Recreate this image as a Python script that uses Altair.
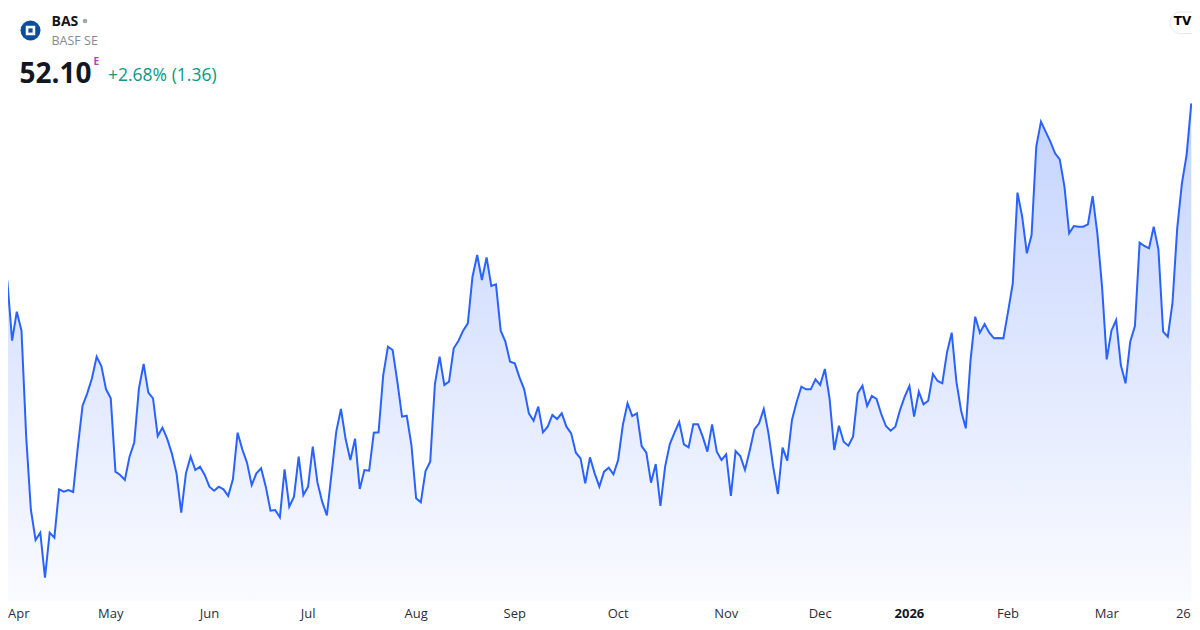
import altair as alt
import pandas as pd

# ---------------- data ----------------
symbol = "BAS"
company = "BASF SE"
last_price = "52.10"
price_flag = "E"
change_text = "+2.68% (1.36)"

# daily closes, 27 Mar 2025 .. 26 Mar 2026 (trading-day order)
prices = [
    47.35, 46.75, 44.98, 45.85, 45.28, 42.10, 39.90, 39.00, 39.22, 37.87,
    39.22, 39.07, 40.52, 40.45, 40.50, 40.44, 41.80, 43.03, 43.40, 43.85,
    44.50, 44.22, 43.52, 43.25, 41.05, 40.95, 40.80, 41.50, 41.92, 43.55,
    44.28, 43.42, 43.25, 42.12, 42.37, 42.04, 41.60, 41.00, 39.82, 41.00,
    41.50, 41.10, 41.20, 40.95, 40.60, 40.48, 40.60, 40.52, 40.32, 40.82,
    42.22, 41.72, 41.32, 40.65, 41.00, 41.15, 40.60, 39.88, 39.90, 39.68,
    41.12, 40.00, 40.30, 41.50,
    40.35, 40.60, 41.80, 40.72, 40.15, 39.74, 41.00, 42.25, 42.93, 42.02,
    41.40, 42.04, 40.53, 41.10, 41.08, 42.22, 42.23, 43.95, 44.80, 44.70,
    43.75, 42.70, 42.73, 41.85, 40.25, 40.13, 41.07, 41.35, 43.68, 44.50,
    43.65, 43.75, 44.75, 44.97, 45.28, 45.50, 46.90, 47.55, 46.80, 47.48,
    46.62, 46.67, 45.28, 44.95, 44.35, 44.30, 43.88, 43.52, 42.80, 42.58,
    43.00, 42.23, 42.40, 42.75, 42.63, 42.80, 42.40, 42.20, 41.62, 41.45,
    40.70, 41.48, 41.00, 40.60,
    41.05, 41.17, 40.97, 41.40, 42.45, 43.10, 42.72, 42.80, 41.82, 41.62,
    40.72, 41.28, 40.02, 41.20, 41.88, 42.22, 42.54, 41.87, 41.78, 42.47,
    42.47, 42.10, 41.65, 42.47, 41.65, 41.40, 41.57, 40.32, 41.67, 41.52,
    41.10, 41.68, 42.32, 42.50, 42.93, 42.20, 41.20, 40.38, 41.77, 41.38,
    42.60, 43.15, 43.60, 43.52, 43.52, 43.82, 43.65, 44.13, 43.25, 41.70,
    42.43, 41.95, 41.83, 42.10, 43.40, 43.63, 43.02, 43.32, 43.23, 42.78,
    42.42, 42.28, 42.40, 42.90,
    43.30, 43.62, 42.70, 43.45, 43.07, 43.18, 43.98, 43.77, 43.70, 44.63,
    45.22, 43.75, 42.88, 42.35, 44.38, 45.70, 45.22, 45.48, 45.22, 45.05,
    45.06, 45.05, 45.85, 46.70, 49.42, 48.70, 47.60, 48.15, 50.80, 51.55,
    51.25, 50.95, 50.60, 50.42, 49.60, 48.20, 48.42, 48.40, 48.40, 48.47,
    49.32, 48.20, 46.60, 44.42, 45.28, 45.60, 44.25, 43.70, 44.95, 45.42,
    47.92, 47.82, 47.75, 48.40, 47.72, 45.25, 45.10, 46.12, 48.35, 49.70,
    50.55, 52.10,
]

# x-axis labels: first trading day of each month (index into prices)
tick_labels = ["Apr", "May", "Jun", "Jul", "Aug", "Sep", "Oct", "Nov", "Dec", "2026", "Feb", "Mar"]
tick_days = [3, 23, 44, 65, 88, 109, 131, 154, 174, 193, 214, 235]
tick_bold = [0, 0, 0, 0, 0, 0, 0, 0, 0, 1, 0, 0]
end_label = "26"
end_day = 253

# ---------------- chart ----------------
W, H = 1184, 614
FONT = "Open Sans"

df = pd.DataFrame({"day": list(range(len(prices))), "price": prices})
ticks = pd.DataFrame({"label": tick_labels, "day": tick_days, "bold": tick_bold})
end_df = pd.DataFrame({"label": [end_label], "day": [end_day]})
one = pd.DataFrame({"k": [0]})

xscale = alt.Scale(domain=[0, 253], range=[-5.3, 1183.3], nice=False, zero=False)
yscale = alt.Scale(domain=[36.54, 54.96], range=[614, 0], nice=False, zero=False)

gradient = alt.Gradient(
    gradient="linear", x1=0, y1=0, x2=0, y2=1,
    stops=[alt.GradientStop(offset=0, color="#c4d3fe"),
           alt.GradientStop(offset=1, color="#fafbff")],
)

area = alt.Chart(df).mark_area(color=gradient).encode(
    x=alt.X("day:Q", scale=xscale, axis=None),
    y=alt.Y("price:Q", scale=yscale, axis=None),
    y2=alt.datum(37.17),
)

line = alt.Chart(df).mark_line(color="#2962ff", strokeWidth=2).encode(
    x=alt.X("day:Q", scale=xscale, axis=None),
    y=alt.Y("price:Q", scale=yscale, axis=None),
)

LBL_Y = 610
first_day = tick_days[0]

tick_first = alt.Chart(ticks).transform_filter(f"datum.day == {first_day}").mark_text(
    font=FONT, fontSize=13, color="#2a2e39", align="left", baseline="alphabetic", dx=-8.8
).encode(x=alt.X("day:Q", scale=xscale, axis=None), y=alt.value(LBL_Y), text="label:N")

tick_norm = alt.Chart(ticks).transform_filter(
    f"datum.bold == 0 && datum.day != {first_day}"
).mark_text(
    font=FONT, fontSize=13, color="#2a2e39", align="center", baseline="alphabetic"
).encode(x=alt.X("day:Q", scale=xscale, axis=None), y=alt.value(LBL_Y), text="label:N")

tick_b = alt.Chart(ticks).transform_filter("datum.bold == 1").mark_text(
    font=FONT, fontSize=13, fontWeight="bold", color="#131722", align="center", baseline="alphabetic"
).encode(x=alt.X("day:Q", scale=xscale, axis=None), y=alt.value(LBL_Y), text="label:N")

tick_end = alt.Chart(end_df).mark_text(
    font=FONT, fontSize=13, color="#2a2e39", align="right", baseline="alphabetic", dx=-0.5
).encode(x=alt.X("day:Q", scale=xscale, axis=None), y=alt.value(LBL_Y), text="label:N")


def txt(s, x, y, **kw):
    return alt.Chart(pd.DataFrame({"t": [s]})).mark_text(
        align="left", baseline="alphabetic", font=FONT, **kw
    ).encode(x=alt.value(x), y=alt.value(y), text="t:N")


logo_c = alt.Chart(one).mark_circle(size=400, color="#0a4d9a", opacity=1).encode(
    x=alt.value(22.5), y=alt.value(22.5))
logo_w = alt.Chart(one).mark_square(size=90, color="white", opacity=1).encode(
    x=alt.value(22.5), y=alt.value(22.5))
logo_b = alt.Chart(one).mark_square(size=18, color="#0a4d9a", opacity=1).encode(
    x=alt.value(22.5), y=alt.value(22.5))
dot = alt.Chart(one).mark_circle(size=22, color="#a3a6af", opacity=1).encode(
    x=alt.value(77), y=alt.value(13))

sym_t = txt(symbol, 43.5, 18.3, fontSize=14, fontWeight="bold", color="#131722")
comp_t = txt(company, 43.5, 36.7, fontSize=12.5, color="#868993")
price_t = txt(last_price, 11.5, 75, fontSize=28, fontWeight="bold", color="#131722")
flag_t = txt(price_flag, 85.5, 57, fontSize=10, fontWeight="bold", color="#ab47bc")
chg_t = txt(change_text, 100, 73, fontSize=17.5, color="#089981")

pill = alt.Chart(one).mark_rect(
    fill="white", stroke="#e6e7eb", strokeWidth=1, cornerRadius=11
).encode(x=alt.value(1162), x2=alt.value(1205), y=alt.value(4), y2=alt.value(25.5))
tv = alt.Chart(pd.DataFrame({"t": ["TV"]})).mark_text(
    font="DejaVu Sans", fontSize=12, fontWeight=900, color="#000000",
    align="center", baseline="middle"
).encode(x=alt.value(1174.5), y=alt.value(13), text="t:N")

chart = alt.layer(
    area, line, tick_first, tick_norm, tick_b, tick_end,
    logo_c, logo_w, logo_b, dot, sym_t, comp_t, price_t, flag_t, chg_t,
    pill, tv,
).properties(
    width=W, height=H, padding=0, autosize=alt.AutoSizeParams(type="none"),
    background="white",
).configure_view(stroke=None)

chart.save("out.html", embed_options={"renderer": "svg", "actions": False})
